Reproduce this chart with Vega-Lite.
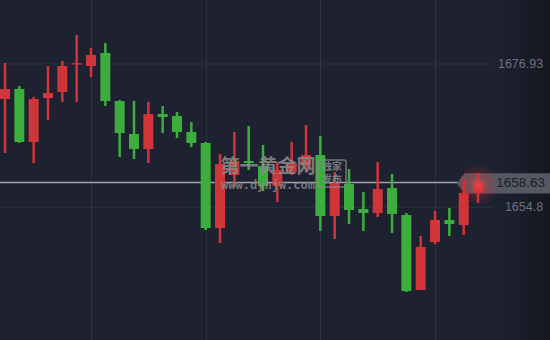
{
  "$schema": "https://vega.github.io/schema/vega-lite/v6.json",
  "width": 550,
  "height": 340,
  "autosize": {"type": "none"},
  "padding": 0,
  "background": "#1e2230",
  "config": {"view": {"stroke": null}, "scale": {"continuousPadding": 0}},
  "datasets": {
    "candles": [
      {"i": 0, "o": 1671.52, "h": 1677.08, "l": 1663.18, "c": 1673.07},
      {"i": 1, "o": 1673.07, "h": 1673.53, "l": 1664.73, "c": 1664.88},
      {"i": 2, "o": 1664.88, "h": 1671.83, "l": 1661.64, "c": 1671.52},
      {"i": 3, "o": 1671.68, "h": 1676.62, "l": 1668.28, "c": 1672.45},
      {"i": 4, "o": 1672.60, "h": 1677.39, "l": 1671.06, "c": 1676.62},
      {"i": 5, "o": 1676.85, "h": 1681.40, "l": 1671.06, "c": 1677.05},
      {"i": 6, "o": 1676.62, "h": 1679.40, "l": 1674.92, "c": 1678.32},
      {"i": 7, "o": 1678.63, "h": 1680.17, "l": 1670.44, "c": 1671.21},
      {"i": 8, "o": 1671.21, "h": 1671.37, "l": 1662.56, "c": 1666.27},
      {"i": 9, "o": 1666.12, "h": 1671.21, "l": 1662.26, "c": 1663.80},
      {"i": 10, "o": 1663.80, "h": 1671.06, "l": 1661.64, "c": 1669.20},
      {"i": 11, "o": 1669.20, "h": 1670.44, "l": 1666.27, "c": 1668.74},
      {"i": 12, "o": 1668.90, "h": 1669.51, "l": 1665.50, "c": 1666.43},
      {"i": 13, "o": 1666.43, "h": 1667.97, "l": 1664.11, "c": 1664.73},
      {"i": 14, "o": 1664.73, "h": 1664.88, "l": 1651.29, "c": 1651.60},
      {"i": 15, "o": 1651.60, "h": 1663.03, "l": 1649.28, "c": 1661.48},
      {"i": 16, "o": 1659.78, "h": 1666.43, "l": 1657.93, "c": 1661.95},
      {"i": 17, "o": 1661.95, "h": 1667.35, "l": 1660.56, "c": 1661.64},
      {"i": 18, "o": 1661.17, "h": 1664.42, "l": 1657.31, "c": 1658.09},
      {"i": 19, "o": 1658.09, "h": 1661.79, "l": 1655.62, "c": 1660.56},
      {"i": 20, "o": 1660.25, "h": 1664.88, "l": 1659.78, "c": 1661.64},
      {"i": 21, "o": 1661.33, "h": 1667.51, "l": 1660.25, "c": 1662.87},
      {"i": 22, "o": 1662.87, "h": 1665.81, "l": 1651.14, "c": 1653.45},
      {"i": 23, "o": 1653.45, "h": 1660.25, "l": 1649.90, "c": 1658.55},
      {"i": 24, "o": 1658.39, "h": 1660.71, "l": 1652.22, "c": 1654.38},
      {"i": 25, "o": 1654.53, "h": 1657.16, "l": 1651.14, "c": 1653.92},
      {"i": 26, "o": 1653.92, "h": 1661.79, "l": 1653.30, "c": 1657.62},
      {"i": 27, "o": 1657.78, "h": 1659.94, "l": 1650.83, "c": 1653.76},
      {"i": 28, "o": 1653.61, "h": 1653.92, "l": 1641.72, "c": 1641.87},
      {"i": 29, "o": 1642.03, "h": 1650.36, "l": 1642.03, "c": 1648.67},
      {"i": 30, "o": 1649.44, "h": 1654.23, "l": 1649.13, "c": 1652.84},
      {"i": 31, "o": 1652.84, "h": 1654.69, "l": 1650.36, "c": 1652.22},
      {"i": 32, "o": 1652.06, "h": 1659.17, "l": 1650.52, "c": 1657.01},
      {"i": 33, "o": 1657.01, "h": 1660.09, "l": 1655.46, "c": 1658.63}
    ],
    "levels": [
      {"p": 1676.93, "label": "1676.93"},
      {"p": 1654.8, "label": "1654.8"}
    ]
  },
  "layer": [
    {
      "data": {"name": "levels"},
      "mark": {"type": "rule", "color": "#2d323e", "strokeWidth": 1},
      "encoding": {
        "x": {"datum": -0.349, "type": "quantitative", "scale": {"domain": [-0.349, 38.02], "nice": false, "zero": false, "padding": 0}, "axis": {"values": [6, 14, 22, 30], "grid": true, "gridColor": "#2d323e", "gridWidth": 1, "labels": false, "ticks": false, "domain": false, "title": null}},
        "x2": {"datum": 34.05},
        "y": {"field": "p", "type": "quantitative", "scale": {"domain": [1634.31, 1686.81], "nice": false, "zero": false, "padding": 0}, "axis": null}
      }
    },
    {
      "data": {"values": [{}]},
      "mark": {"type": "rect", "fill": {"gradient": "linear", "x1": 0, "y1": 0, "x2": 1, "y2": 0, "stops": [{"offset": 0, "color": "rgba(18,20,26,0)"}, {"offset": 1, "color": "rgba(18,20,26,0.75)"}]}},
      "encoding": {
        "x": {"datum": 34.2, "type": "quantitative"},
        "x2": {"datum": 38.02},
        "y": {"datum": 1686.81, "type": "quantitative"},
        "y2": {"datum": 1634.31}
      }
    },
    {
      "data": {"values": [{"x": 34.79, "p": 1658.5}]},
      "mark": {"type": "point", "filled": true, "size": 8836, "shape": "M -1 0 L -0.83 -0.217 L 1 -0.217 L 1 0.217 L -0.83 0.217 Z", "fill": "#5a5e68", "opacity": 0.92, "strokeWidth": 0},
      "encoding": {
        "x": {"field": "x", "type": "quantitative"},
        "y": {"field": "p", "type": "quantitative"}
      }
    },
    {
      "data": {"values": [{"p": 1658.63}]},
      "mark": {"type": "rule", "color": "#a4a4a6", "strokeWidth": 1.5},
      "encoding": {
        "x": {"datum": -0.349, "type": "quantitative"},
        "x2": {"datum": 31.55},
        "y": {"field": "p", "type": "quantitative"}
      }
    },
    {
      "data": {"name": "candles"},
      "mark": {"type": "rule", "strokeWidth": 2.5},
      "encoding": {
        "x": {"field": "i", "type": "quantitative"},
        "y": {"field": "l", "type": "quantitative"},
        "y2": {"field": "h"},
        "color": {"condition": {"test": "datum.c >= datum.o", "value": "#d0353a"}, "value": "#3cae3d"}
      }
    },
    {
      "data": {"name": "candles"},
      "mark": {"type": "bar", "width": 10},
      "encoding": {
        "x": {"field": "i", "type": "quantitative"},
        "y": {"field": "o", "type": "quantitative"},
        "y2": {"field": "c"},
        "color": {"condition": {"test": "datum.c >= datum.o", "value": "#d0353a"}, "value": "#3cae3d"}
      }
    },
    {
      "data": {"values": [{"i": 33, "p": 1658.3}]},
      "mark": {"type": "point", "filled": true, "size": 1800, "opacity": 1, "strokeWidth": 0, "fill": {"gradient": "radial", "x1": 0.5, "y1": 0.5, "r1": 0, "x2": 0.5, "y2": 0.5, "r2": 0.5, "stops": [{"offset": 0, "color": "rgba(255,80,80,0.55)"}, {"offset": 0.5, "color": "rgba(230,40,45,0.25)"}, {"offset": 1, "color": "rgba(200,30,40,0)"}]}},
      "encoding": {
        "x": {"field": "i", "type": "quantitative"},
        "y": {"field": "p", "type": "quantitative"}
      }
    },
    {
      "data": {"values": [{"x": 18.35, "p": 1661.0, "t": "第一黄金网"}]},
      "mark": {"type": "text", "font": "Noto Sans CJK SC", "fontSize": 19, "fontWeight": "bold", "color": "#8a8a8c", "opacity": 0.85, "align": "center", "baseline": "middle"},
      "encoding": {
        "x": {"field": "x", "type": "quantitative"},
        "y": {"field": "p", "type": "quantitative"},
        "text": {"field": "t"}
      }
    },
    {
      "data": {"values": [{"x": 18.35, "p": 1658.3, "t": "www.dyhjw.com"}]},
      "mark": {"type": "text", "font": "DejaVu Sans Mono", "fontSize": 12, "fontWeight": "bold", "color": "#8a8a8c", "opacity": 0.8, "align": "center", "baseline": "middle"},
      "encoding": {
        "x": {"field": "x", "type": "quantitative"},
        "y": {"field": "p", "type": "quantitative"},
        "text": {"field": "t"}
      }
    },
    {
      "data": {"values": [{"x1": 21.84, "x2": 23.79, "p1": 1662.1, "p2": 1657.93}]},
      "mark": {"type": "rect", "fill": null, "stroke": "#8a8a8c", "strokeWidth": 1.5, "opacity": 0.8, "cornerRadius": 2},
      "encoding": {
        "x": {"field": "x1", "type": "quantitative"},
        "x2": {"field": "x2"},
        "y": {"field": "p1", "type": "quantitative"},
        "y2": {"field": "p2"}
      }
    },
    {
      "data": {"values": [{"x": 22.81, "p": 1661.1, "t": "独家"}, {"x": 22.81, "p": 1659.0, "t": "发布"}]},
      "mark": {"type": "text", "font": "Noto Sans CJK SC", "fontSize": 10, "fontWeight": "bold", "color": "#8a8a8c", "opacity": 0.85, "align": "center", "baseline": "middle"},
      "encoding": {
        "x": {"field": "x", "type": "quantitative"},
        "y": {"field": "p", "type": "quantitative"},
        "text": {"field": "t"}
      }
    },
    {
      "data": {"values": [{"x": 37.68, "p": 1658.5, "t": "1658.63"}]},
      "mark": {"type": "text", "font": "Liberation Sans", "fontSize": 13.5, "color": "#1c1e24", "align": "right", "baseline": "middle"},
      "encoding": {
        "x": {"field": "x", "type": "quantitative"},
        "y": {"field": "p", "type": "quantitative"},
        "text": {"field": "t"}
      }
    },
    {
      "data": {"name": "levels"},
      "mark": {"type": "text", "font": "Liberation Sans", "fontSize": 12.5, "color": "#6b7181", "align": "right", "baseline": "middle"},
      "encoding": {
        "x": {"datum": 37.54, "type": "quantitative"},
        "y": {"field": "p", "type": "quantitative"},
        "text": {"field": "label"}
      }
    }
  ]
}
